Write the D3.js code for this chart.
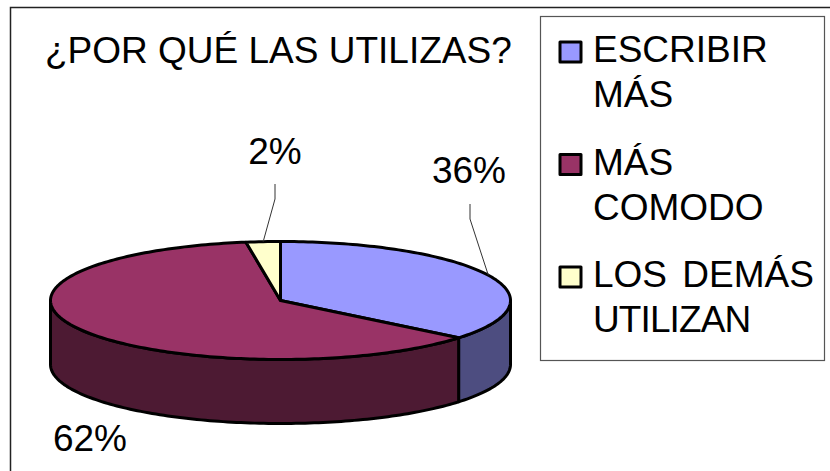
<!DOCTYPE html>
<html><head><meta charset="utf-8">
<script src="https://cdn.jsdelivr.net/npm/d3@7/dist/d3.min.js"></script>
<style>html,body{margin:0;padding:0;background:#fff}svg{display:block}text{font-family:"Liberation Sans",Arial,sans-serif;fill:#000}</style>
</head><body><svg id="c" width="830" height="471"></svg>
<script>
const title = "¿POR QUÉ LAS UTILIZAS?";
const categories = ["ESCRIBIR MÁS", "MÁS COMODO", "LOS DEMÁS UTILIZAN"];
const legendLines = [["ESCRIBIR", "MÁS"], ["MÁS", "COMODO"], ["LOS DEMÁS", "UTILIZAN"]];
const values = [35.9, 61.7, 2.4];
const labels = ["36%", "62%", "2%"];
const topColors = ["#9999FF", "#993366", "#FFFFCC"];
const sideColors = ["#4D4D80", "#4D1A33", "#808066"];

const W = 830, H = 471;
const cx = 280.5, cy = 300.5, rx = 230, ry = 59, depth = 64;
const svg = d3.select("#c");

svg.append("path").attr("d", `M10.5,${H}V7.5H${W}`).attr("fill", "none").attr("stroke", "#222").attr("stroke-width", 1.5);

const arcs = d3.pie().sort(null).value(d => d)(values);
const px = d3.scaleLinear().domain([-1, 1]).range([cx - rx, cx + rx]);
const py = d3.scaleLinear().domain([-1, 1]).range([cy - ry, cy + ry]);
const pt = (a, dz = 0) => [px(Math.sin(a)), py(-Math.cos(a)) + dz];
const sweep = (a0, a1, dz = 0) => {
  const n = Math.max(2, Math.ceil(Math.abs(a1 - a0) / 0.02));
  return d3.range(n + 1).map(i => pt(a0 + (a1 - a0) * i / n, dz));
};
const line = d3.line();
const ink = {stroke: "#000", "stroke-width": 3, "stroke-linejoin": "round"};
const styled = (s, o) => { Object.entries(o).forEach(([k, v]) => s.attr(k, v)); return s; };

const front0 = Math.PI / 2, front1 = 3 * Math.PI / 2;
arcs.forEach((d, i) => {
  const a0 = Math.max(d.startAngle, front0), a1 = Math.min(d.endAngle, front1);
  if (a1 <= a0) return;
  const pts = sweep(a0, a1).concat(sweep(a1, a0, depth));
  styled(svg.append("path").attr("d", line(pts) + "Z").attr("fill", sideColors[i]), ink);
});

arcs.forEach((d, i) => {
  const pts = [[cx, cy]].concat(sweep(d.startAngle, d.endAngle));
  styled(svg.append("path").attr("d", line(pts) + "Z").attr("fill", topColors[i]), ink);
});

const labelPos = [{x: 469, y: 183, elbow: [470, 204, 219]}, {x: 90, y: 451}, {x: 275, y: 164, elbow: [275, 184, 199]}];
arcs.forEach((d, i) => {
  const p = labelPos[i];
  if (p.elbow) {
    const m = pt((d.startAngle + d.endAngle) / 2);
    svg.append("path").attr("d", line([[p.elbow[0], p.elbow[1]], [p.elbow[0], p.elbow[2]], m]))
      .attr("fill", "none").attr("stroke", "#333").attr("stroke-width", 1);
  }
  svg.append("text").attr("x", p.x).attr("y", p.y).attr("text-anchor", "middle").attr("font-size", 37).text(labels[i]);
});

svg.append("text").attr("x", 45).attr("y", 63).attr("font-size", 37).text(title);

svg.append("rect").attr("x", 540.5).attr("y", 16.5).attr("width", 284).attr("height", 344)
  .attr("fill", "#fff").attr("stroke", "#555").attr("stroke-width", 1.2);
const rowY = d3.scalePoint().domain(d3.range(categories.length)).range([62, 287]);
categories.forEach((c, i) => {
  const y = rowY(i);
  styled(svg.append("rect").attr("x", 560).attr("y", y - 20).attr("width", 21).attr("height", 20).attr("fill", topColors[i]), ink);
  legendLines[i].forEach((t, j) => {
    svg.append("text").attr("x", 593).attr("y", y + j * 45).attr("font-size", 37)
      .attr("word-spacing", 5).attr("letter-spacing", t === "UTILIZAN" ? -0.9 : 0).text(t);
  });
});
</script></body></html>
